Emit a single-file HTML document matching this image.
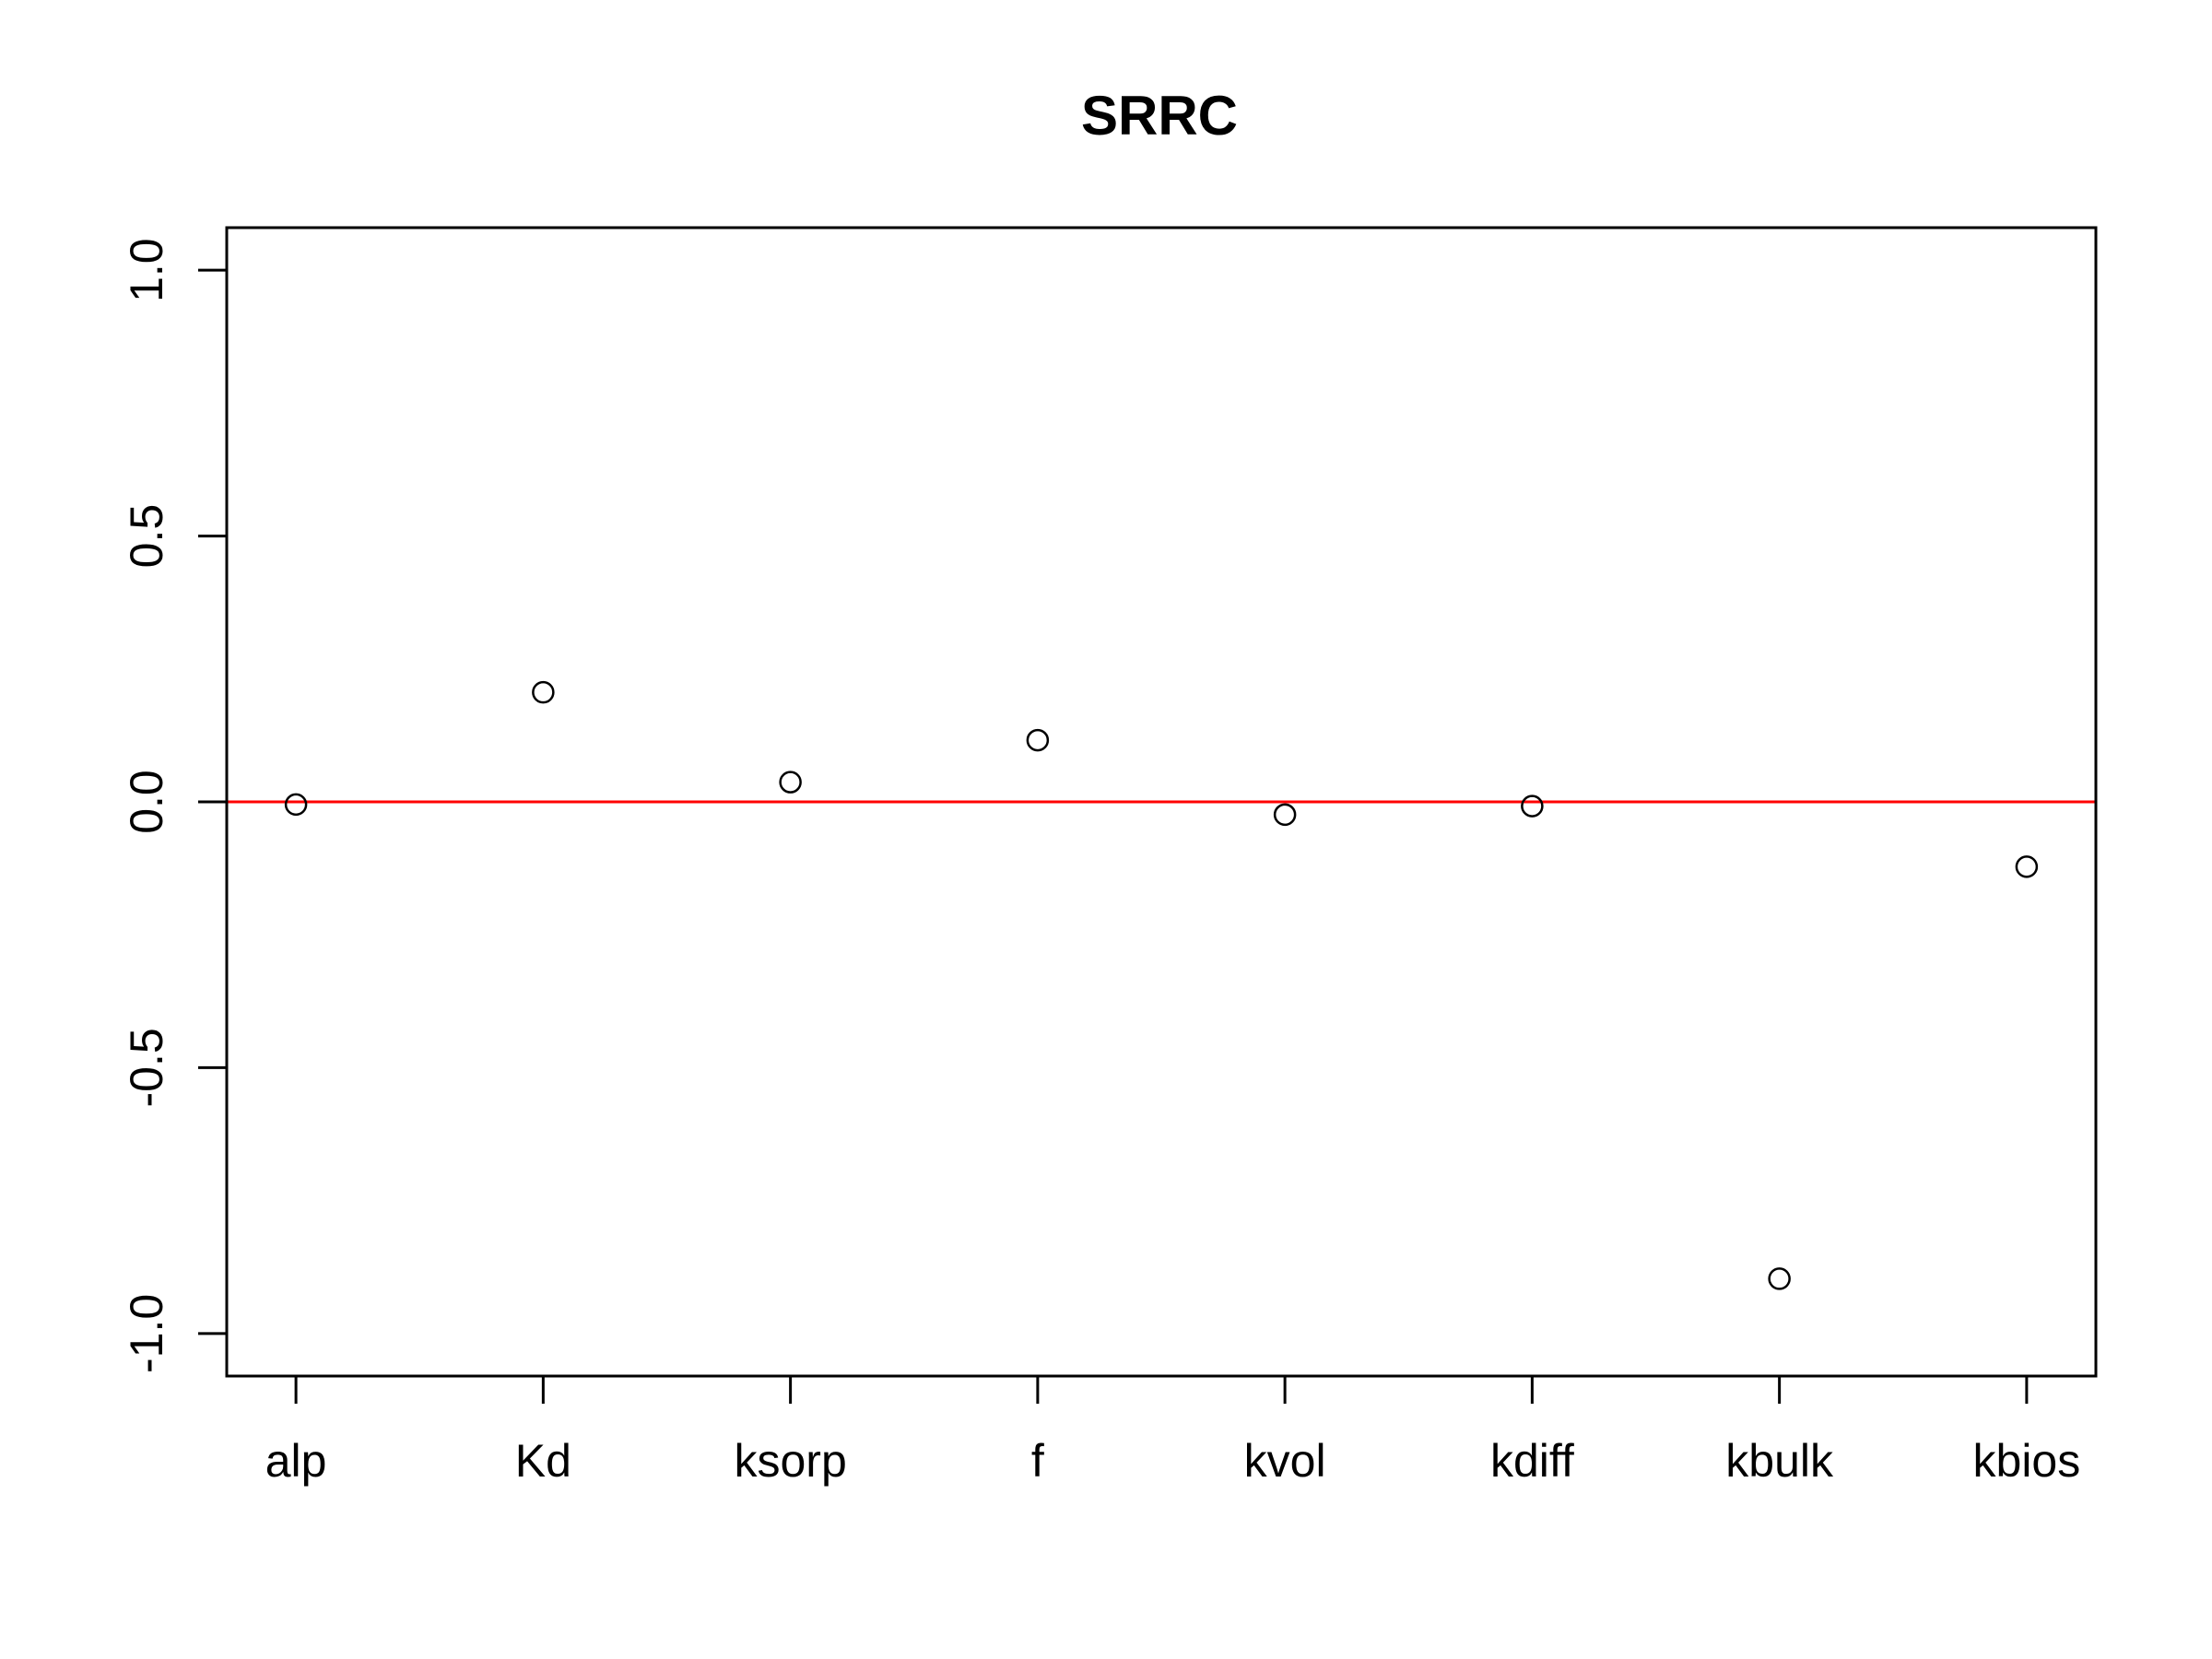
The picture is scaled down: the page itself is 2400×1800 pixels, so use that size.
<!DOCTYPE html>
<html><head><meta charset="utf-8"><style>
html,body{margin:0;padding:0;background:#fff}
svg{display:block}
text{font-family:"Liberation Sans",Arial,sans-serif;fill:#000}
</style></head><body>
<svg id="chart" width="2400" height="1800" viewBox="0 0 2400 1800" xmlns="http://www.w3.org/2000/svg">
<rect x="0" y="0" width="2400" height="1800" fill="#fff"/>
<text x="1258" y="146" font-size="60" font-weight="bold" text-anchor="middle">SRRC</text>
<g id="layer"></g>
</svg>
<script>
const categories = ["alp","Kd","ksorp","f","kvol","kdiff","kbulk","kbios"];
const srrcValues = [-0.005, 0.206, 0.037, 0.116, -0.024, -0.008, -0.897, -0.122];
const yTicks = [-1.0, -0.5, 0.0, 0.5, 1.0];
const yTickLabels = ["-1.0", "-0.5", "0.0", "0.5", "1.0"];
const refLineValue = 0;

const L = 246, R = 2274, T = 247, B = 1493;
const xMin = 0.72, xMax = categories.length + 0.28;
const yMin = -1.08, yMax = 1.08;
const xs = i => L + (i + 1 - xMin) / (xMax - xMin) * (R - L);
const ys = v => B - (v - yMin) / (yMax - yMin) * (B - T);
const NS = "http://www.w3.org/2000/svg";
const layer = document.getElementById('layer');
function mk(tag, attrs) {
  const e = document.createElementNS(NS, tag);
  for (const k in attrs) e.setAttribute(k, attrs[k]);
  layer.appendChild(e);
  return e;
}

// reference line
const ref = mk('line', {x1: L, x2: R, y1: ys(refLineValue), y2: ys(refLineValue), stroke: '#ff0000', 'stroke-width': 3});



// plot box
const box = mk('rect', {x: L, y: T, width: R - L, height: B - T, fill: 'none', stroke: '#000', 'stroke-width': 3});



// y axis
yTicks.forEach((v, i) => {
  const y = ys(v);
  const t = mk('line', {x1: L - 31, x2: L, y1: y, y2: y, stroke: '#000', 'stroke-width': 3});
  
  
  const lb = mk('text', {x: 176, y: y, 'font-size': 50, 'text-anchor': 'middle', transform: `rotate(-90 176 ${y})`});
  lb.textContent = yTickLabels[i];
  
  
});

// x axis
categories.forEach((c, i) => {
  const x = xs(i);
  const t = mk('line', {x1: x, x2: x, y1: B, y2: B + 30, stroke: '#000', 'stroke-width': 3});
  
  
  const lb = mk('text', {x: x, y: 1602, 'font-size': 50, 'text-anchor': 'middle'});
  lb.textContent = c;
  
  
});

// points
srrcValues.forEach((v, i) => {
  const p = mk('circle', {cx: xs(i), cy: ys(v), r: 11, fill: 'none', stroke: '#000', 'stroke-width': 2.5});
  
  
});
</script>
</body></html>
